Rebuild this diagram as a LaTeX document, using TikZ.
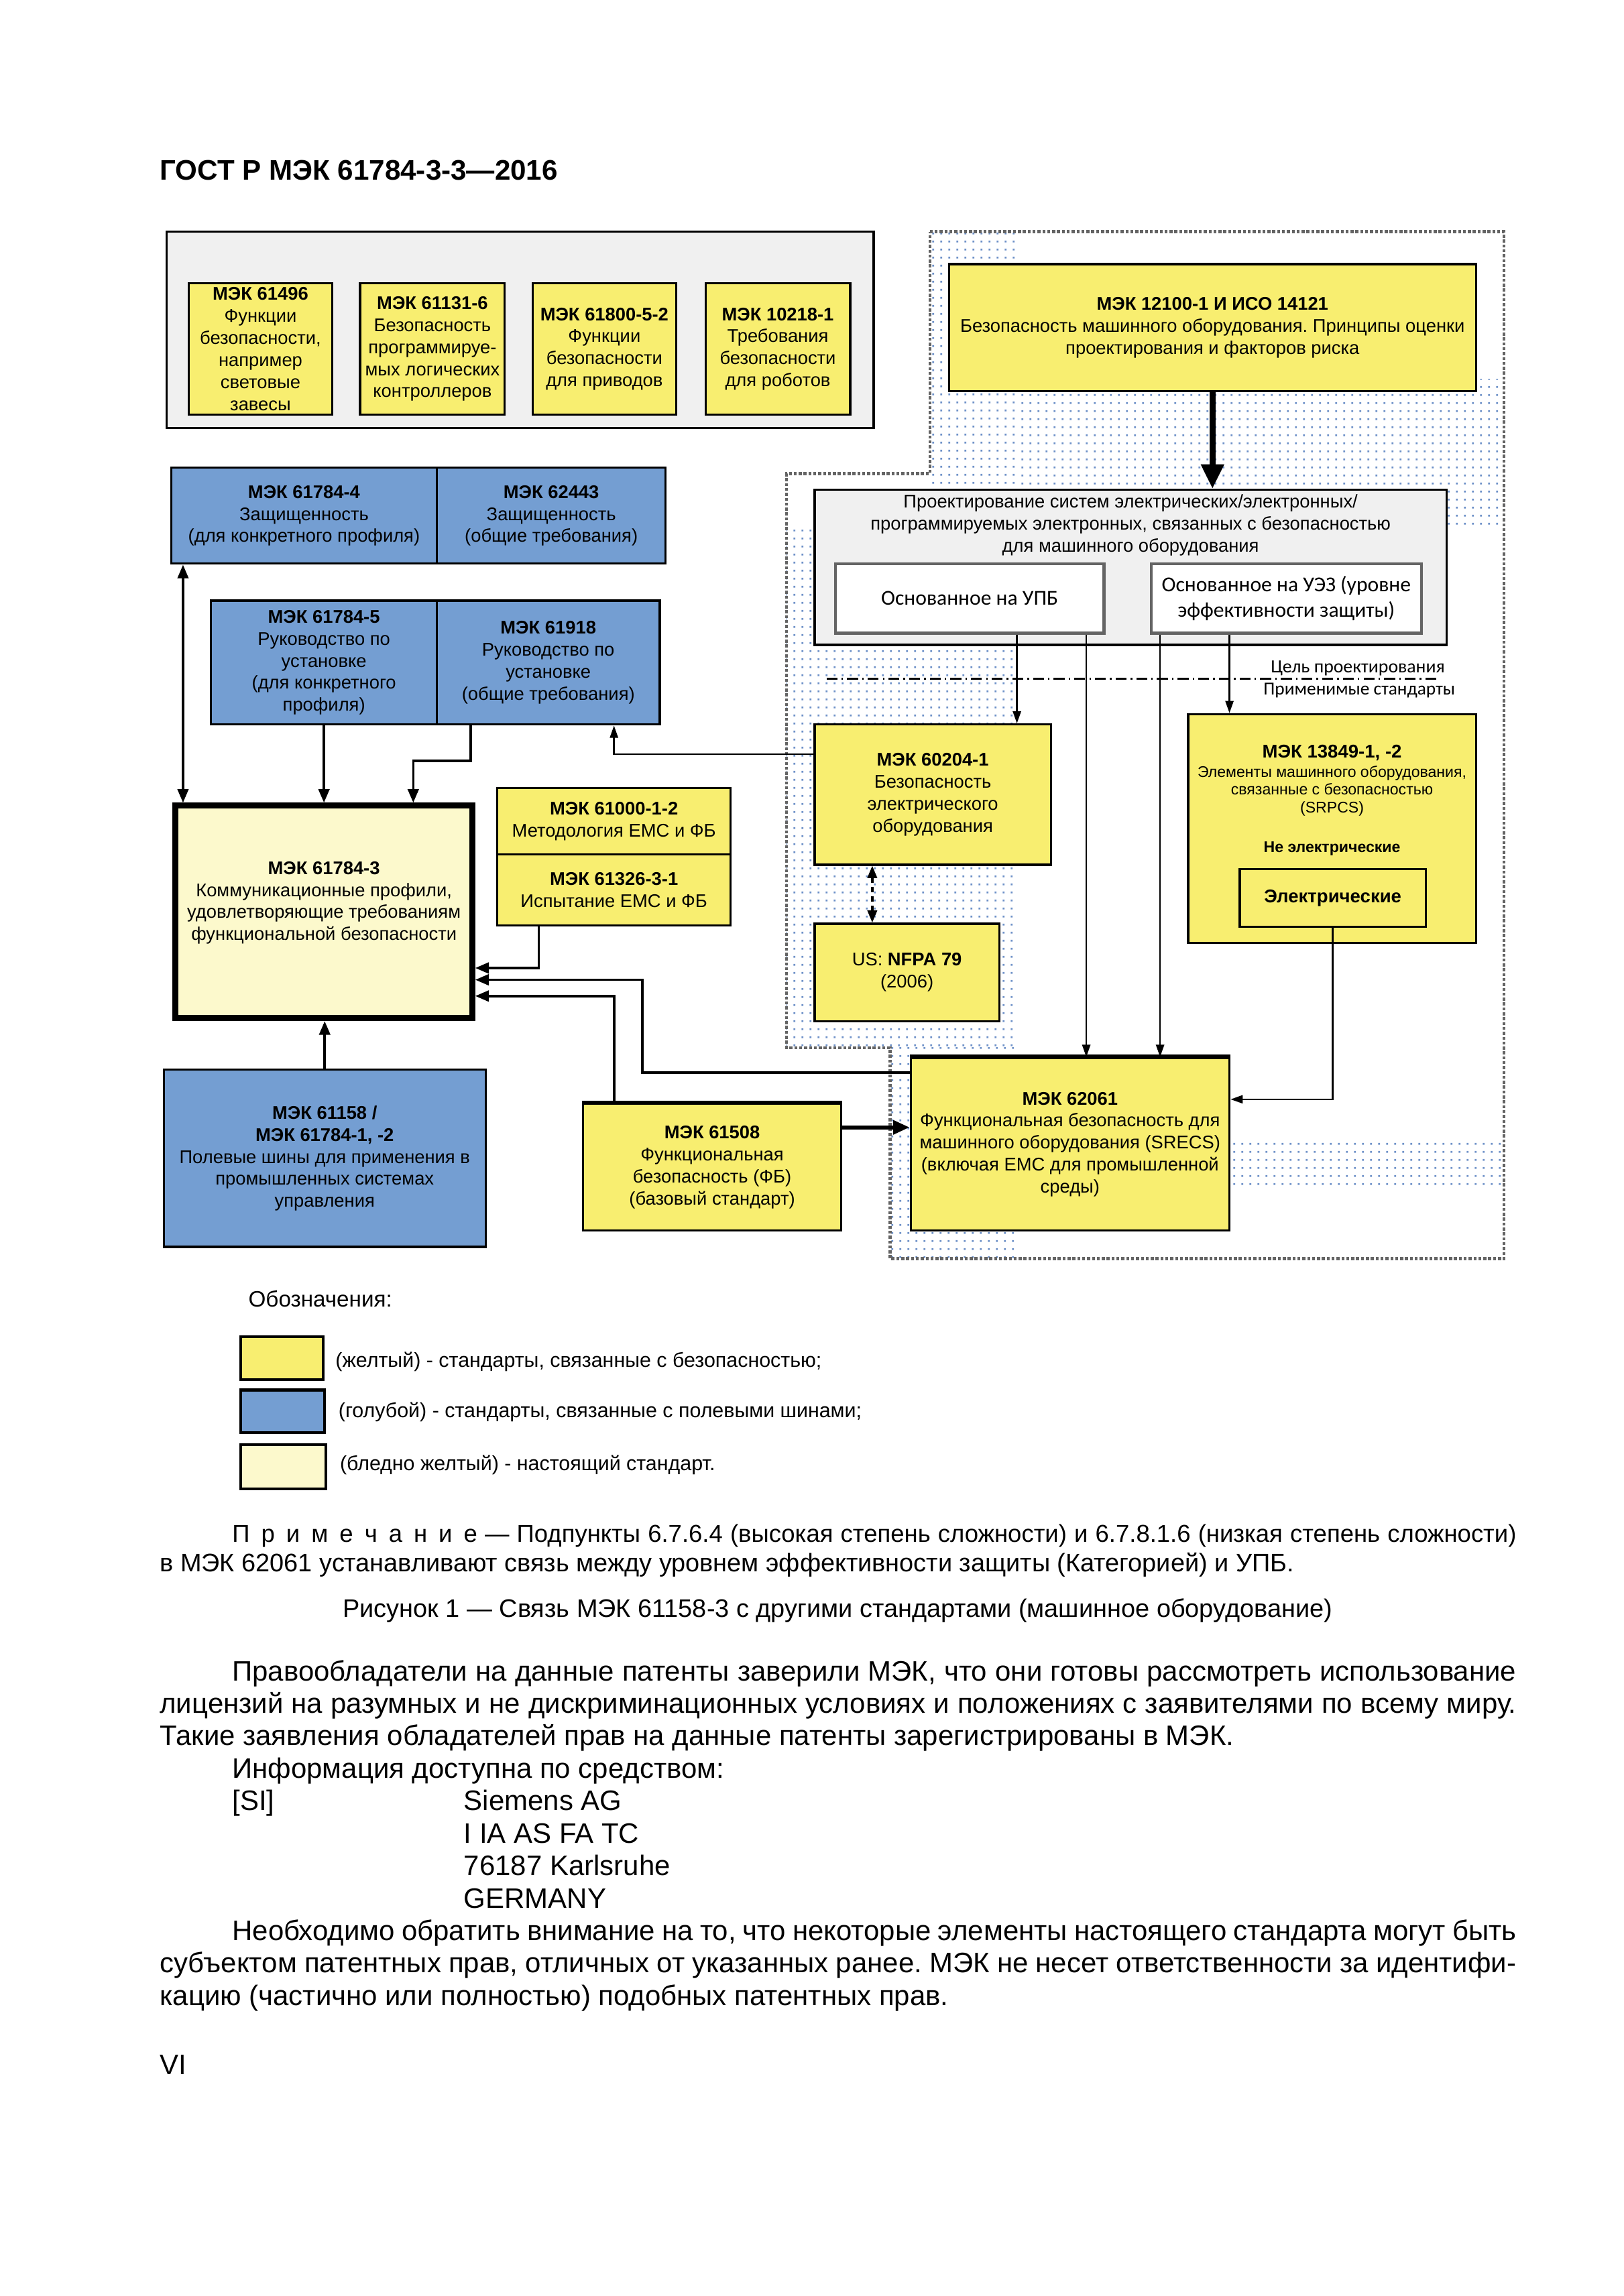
\documentclass[tikz,border=0pt]{standalone}
\usepackage{fontspec}
\setmainfont{Liberation Sans}
\newfontfamily\calfont{Carlito}
\usetikzlibrary{arrows.meta,patterns.meta}

\newlength\pxu
\setlength\pxu{0.0190909cm}

\definecolor{stdyellow}{RGB}{248,238,112}
\definecolor{busblue}{RGB}{116,158,210}
\definecolor{paleyellow}{RGB}{252,249,204}
\definecolor{boxgray}{RGB}{240,240,240}
\definecolor{dotblue}{RGB}{110,145,200}
\definecolor{edgegray}{RGB}{100,100,100}

\tikzdeclarepattern{
  name=bgdots,
  type=uncolored,
  bounding box={(0pt,0pt) and (3pt,3pt)},
  tile size={(3pt,3pt)},
  code={
    \fill (1.15pt,1.15pt) rectangle (1.85pt,1.85pt);
  }
}

\begin{document}
\frenchspacing
\begin{tikzpicture}[
            x = 1\pxu, y = -1\pxu,
            sz/.style 2 args={minimum width=#1*\pxu, minimum height=#2*\pxu},
            ybox/.style={draw, line width=.8pt, fill=stdyellow, align=center, inner sep=0pt,
                font=\fontsize{6.75}{8.1}\selectfont},
            bbox/.style={ybox, fill=busblue},
            mainbox/.style={ybox, fill=paleyellow, line width=2.2pt},
            grpbox/.style={draw, line width=.8pt, fill=boxgray, inner sep=0pt},
            wbox/.style={draw=edgegray, line width=1.1pt, fill=white, align=center, inner sep=0pt,
                font=\calfont\fontsize{7.8}{9.2}\selectfont},
            legbox/.style={draw, line width=1pt, inner sep=0pt},
            arr/.style={line width=.6pt, -{Triangle[length=4.5pt, width=3pt]}},
            sidearr/.style={line width=.9pt, -{Triangle[length=5pt, width=4pt]}},
            bigarr/.style={line width=2.2pt, -{Triangle[length=9pt, width=8pt]}},
            bodyline/.style={anchor=base west, inner sep=0pt, font=\fontsize{10.35}{12}\selectfont},
            noteline/.style={anchor=base west, inner sep=0pt, font=\fontsize{9.35}{11}\selectfont},
            ]

        \fill[white] (0,0) rectangle (1100,1556);
        \useasboundingbox (0,0) rectangle (1100,1556);

        % header
        \node[anchor=base west, inner sep=0pt, font=\bfseries\fontsize{10.4}{12}\selectfont] (hdr) at (108,122) {ГОСТ Р МЭК 61784-3-3—2016};

        % dotted background and dashed outline
        \fill[pattern=bgdots, pattern color=dotblue] (630,157) rectangle (690,330);
        \fill[pattern=bgdots, pattern color=dotblue] (690,257) rectangle (1019,359);
        \fill[pattern=bgdots, pattern color=dotblue] (533,359) rectangle (690,710);
        \fill[pattern=bgdots, pattern color=dotblue] (603,710) rectangle (690,853);
        \fill[pattern=bgdots, pattern color=dotblue] (833,773) rectangle (1019,806);
        \draw[edgegray, line width=1.1pt, dash pattern=on 1.1pt off .7pt]
            (630,157) -- (1019,157) -- (1019,853) -- (603,853) -- (603,710)
            -- (533,710) -- (533,321) -- (630,321) -- cycle;

        % group of safety function standards
        \node[grpbox, sz={479}{133}] (grp) at (352.5,223.5) {};
        \node[ybox, sz={97}{89}] (m61496) at (176.5,236.5) {\textbf{МЭК 61496}\\Функции\\безопасности,\\например\\световые\\завесы};
        \node[ybox, sz={98}{89}] (m61131) at (293,236.5) {\textbf{МЭК 61131-6}\\Безопасность\\программируе-\\мых логических\\контроллеров};
        \node[ybox, sz={97}{89}] (m61800) at (409.5,236.5) {\textbf{МЭК 61800-5-2}\\Функции\\безопасности\\для приводов};
        \node[ybox, sz={98}{89}] (m10218) at (527,236.5) {\textbf{МЭК 10218-1}\\Требования\\безопасности\\для роботов};

        % fieldbus standards
        \node[bbox, sz={180}{65}] (m617844) at (206,349.5) {\textbf{МЭК 61784-4}\\Защищенность\\(для конкретного профиля)};
        \node[bbox, sz={155}{65}] (m62443) at (373.5,349.5) {\textbf{МЭК 62443}\\Защищенность\\(общие требования)};
        \node[bbox, sz={153}{84}] (m617845) at (219.5,449) {\textbf{МЭК 61784-5}\\Руководство по\\установке\\(для конкретного\\профиля)};
        \node[bbox, sz={151}{84}] (m61918) at (371.5,449) {\textbf{МЭК 61918}\\Руководство по\\установке\\(общие требования)};
        \node[mainbox, sz={201}{144}] (m617843) at (219.5,618) {\textbf{МЭК 61784-3}\\Коммуникационные профили,\\удовлетворяющие требованиям\\функциональной безопасности\\\mbox{}};
        \node[bbox, sz={218}{120}] (m61158) at (220,785) {\textbf{МЭК 61158 /}\\\textbf{МЭК 61784-1, -2}\\Полевые шины для применения в\\промышленных системах\\управления};

        % safety standards
        \node[ybox, sz={158}{45}] (m610001) at (416,556.5) {\textbf{МЭК 61000-1-2}\\Методология ЕМС и ФБ};
        \node[ybox, sz={158}{48}] (m613263) at (416,603) {\textbf{МЭК 61326-3-1}\\Испытание ЕМС и ФБ};
        \node[ybox, sz={175}{86}] (m61508) at (482.5,791) {\textbf{МЭК 61508}\\Функциональная\\безопасность (ФБ)\\(базовый стандарт)};
        \draw[line width=1.6pt] (m61508.north west) -- (m61508.north east);
        \node[ybox, sz={357}{86}] (m12100) at (821.5,222) {\textbf{МЭК 12100-1 И ИСО 14121}\\Безопасность машинного оборудования. Принципы оценки\\проектирования и факторов риска};

        % design of control systems
        \node[grpbox, sz={428}{105}] (dsg) at (766,384.5) {};
        \node[align=center, inner sep=0pt, font=\fontsize{6.75}{8.1}\selectfont] (dsgtitle) at (766,356) {Проектирование систем электрических/электронных/\\программируемых электронных, связанных с безопасностью\\для машинного оборудования};
        \node[wbox, sz={182}{47}] (upb) at (657,405.5) {Основанное на УПБ};
        \node[wbox, sz={183}{47}] (uez) at (871.5,405.5) {Основанное на УЭЗ (уровне\\эффективности защиты)};

        \coordinate (lvl1) at (560,460);
        \coordinate (lvl2) at (975,460);
        \draw[line width=.7pt, dash pattern=on 4pt off 1.5pt on .6pt off 1.5pt] (lvl1) -- (lvl2);
        \node[inner sep=0pt, font=\calfont\fontsize{6.85}{8}\selectfont] (goal) at (920,453) {Цель проектирования};
        \node[inner sep=0pt, font=\calfont\fontsize{6.75}{8}\selectfont] (appl) at (921,468) {Применимые стандарты};

        \node[ybox, sz={160}{95}] (m60204) at (632,538.5) {\textbf{МЭК 60204-1}\\Безопасность\\электрического\\оборудования};
        \node[ybox, sz={125}{66}] (nfpa) at (614.5,659) {US: \textbf{NFPA 79}\\(2006)};
        \node[ybox, sz={195}{155}] (m13849) at (902.5,561.5) {};
        \node[inner sep=0pt, font=\bfseries\fontsize{6.8}{8}\selectfont] (t13849) at (902.5,510) {МЭК 13849-1, -2};
        \node[align=center, inner sep=0pt, font=\fontsize{5.7}{6.5}\selectfont] (d13849) at (902.5,536) {Элементы машинного оборудования,\\связанные с безопасностью\\(SRPCS)};
        \node[inner sep=0pt, font=\bfseries\fontsize{5.7}{7}\selectfont] (nonel) at (902.5,575) {Не электрические};
        \node[ybox, sz={126}{39}, font=\bfseries\fontsize{6.8}{8}\selectfont] (elec) at (903,608.5) {Электрические};
        \node[ybox, sz={216}{117}] (m62061) at (725,775.5) {\textbf{МЭК 62061}\\Функциональная безопасность для\\машинного оборудования (SRECS)\\(включая ЕМС для промышленной\\среды)};
        \draw[line width=1.6pt] (m62061.north west) -- (m62061.north east);

        % connectors
        \draw[bigarr] (m12100.south) -- (m12100.south |- dsg.north);
        \coordinate (u1) at ([xshift=32*\pxu]upb.south);
        \coordinate (u2) at ([xshift=79*\pxu]upb.south);
        \coordinate (z1) at ([xshift=-85.5*\pxu]uez.south);
        \coordinate (z2) at ([xshift=-38.5*\pxu]uez.south);
        \draw[arr] (u1) -- (u1 |- m60204.north);
        \draw[arr] (u2) -- (u2 |- m62061.north);
        \draw[arr] (z1) -- (z1 |- m62061.north);
        \draw[arr] (z2) -- (z2 |- m13849.north);
        \draw[arr] ([yshift=27.5*\pxu]m60204.west) -| ([xshift=44.5*\pxu]m61918.south);
        \draw[line width=.8pt, dash pattern=on 2pt off 1.5pt,
            {Triangle[length=4.5pt, width=3.5pt]}-{Triangle[length=4.5pt, width=3.5pt]}]
            ([xshift=-41*\pxu]m60204.south) -- ([xshift=-23.5*\pxu]nfpa.north);
        \draw[arr] (elec.south) |- ([yshift=30.5*\pxu]m62061.east);
        \coordinate (f1) at ([yshift=27*\pxu]m61508.east);
        \draw[line width=1.4pt, -{Triangle[length=6pt, width=5pt]}] (f1) -- (f1 -| m62061.west);
        \draw[sidearr] ([yshift=48.5*\pxu]m62061.west) -- ++(-181,0) |- ([yshift=-46*\pxu]m617843.east);
        \draw[sidearr] ([xshift=-66.5*\pxu]m61508.north) |- ([yshift=-57*\pxu]m617843.east);
        \draw[sidearr] ([xshift=-51*\pxu]m613263.south) |- ([yshift=-38*\pxu]m617843.east);
        \draw[line width=.8pt, {Triangle[length=5pt, width=4pt]}-{Triangle[length=5pt, width=4pt]}]
            ([xshift=-82*\pxu]m617844.south) -- ([xshift=-95.5*\pxu]m617843.north);
        \draw[sidearr] (m617845.south) -- (m617845.south |- m617843.north);
        \draw[sidearr] ([xshift=-52.5*\pxu]m61918.south) -- ++(0,24) -| ([xshift=60.5*\pxu]m617843.north);
        \draw[sidearr] (m61158.north) -- (m61158.north |- m617843.south);

        % legend
        \node[anchor=west, inner sep=0pt, font=\fontsize{8.2}{10}\selectfont] (legtitle) at (168,880) {Обозначения:};
        \node[legbox, fill=stdyellow, sz={56}{29}] (leg1) at (191,920.5) {};
        \node[legbox, fill=busblue, sz={57}{29}] (leg2) at (191.5,956.5) {};
        \node[legbox, fill=paleyellow, sz={58}{30}] (leg3) at (192,994) {};
        \node[anchor=west, inner sep=0pt, font=\fontsize{7.5}{9}\selectfont] (legt1) at (227,923) {(желтый) - стандарты, связанные с безопасностью;};
        \node[anchor=west, inner sep=0pt, font=\fontsize{7.5}{9}\selectfont] (legt2) at (229,957) {(голубой) - стандарты, связанные с полевыми шинами;};
        \node[anchor=west, inner sep=0pt, font=\fontsize{7.5}{9}\selectfont] (legt3) at (230,993) {(бледно желтый) - настоящий стандарт.};

        % note and caption
        \node[noteline, font=\fontsize{9}{11}\selectfont] (n1) at (157,1045) {\makebox[870\pxu][s]{П\hspace{4.2pt}р\hspace{4.2pt}и\hspace{4.2pt}м\hspace{4.2pt}е\hspace{4.2pt}ч\hspace{4.2pt}а\hspace{4.2pt}н\hspace{4.2pt}и\hspace{4.2pt}е — Подпункты 6.7.6.4 (высокая степень сложности) и 6.7.8.1.6 (низкая степень сложности)}};
        \node[noteline] (n2) at (108,1065) {в МЭК 62061 устанавливают связь между уровнем эффективности защиты (Категорией) и УПБ.};
        \node[noteline, anchor=base] (cap) at (567.5,1096) {Рисунок 1 — Связь МЭК 61158-3 с другими стандартами (машинное оборудование)};

        % text below
        \node[bodyline] (p1a) at (157,1139) {\makebox[870\pxu][s]{Правообладатели на данные патенты заверили МЭК, что они готовы рассмотреть использование}};
        \node[bodyline] (p1b) at (108,1161) {\makebox[919\pxu][s]{лицензий на разумных и не дискриминационных условиях и положениях с заявителями по всему миру.}};
        \node[bodyline] (p1c) at (108,1183) {Такие заявления обладателей прав на данные патенты зарегистрированы в МЭК.};
        \node[bodyline] (p2) at (157,1205) {Информация доступна по средством:};
        \node[bodyline] (si) at (157,1227) {[SI]};
        \node[bodyline] (adr1) at (314,1227) {Siemens AG};
        \node[bodyline] (adr2) at (314,1249) {I IA AS FA TC};
        \node[bodyline] (adr3) at (314,1271) {76187 Karlsruhe};
        \node[bodyline] (adr4) at (314,1293) {GERMANY};
        \node[bodyline] (p3a) at (157,1315) {\makebox[870\pxu][s]{Необходимо обратить внимание на то, что некоторые элементы настоящего стандарта могут быть}};
        \node[bodyline] (p3b) at (108,1337) {\makebox[919\pxu][s]{субъектом патентных прав, отличных от указанных ранее. МЭК не несет ответственности за идентифи-}};
        \node[bodyline] (p3c) at (108,1359) {кацию (частично или полностью) подобных патентных прав.};
        \node[bodyline] (pg) at (108,1406) {VI};
    \end{tikzpicture}
\end{document}
